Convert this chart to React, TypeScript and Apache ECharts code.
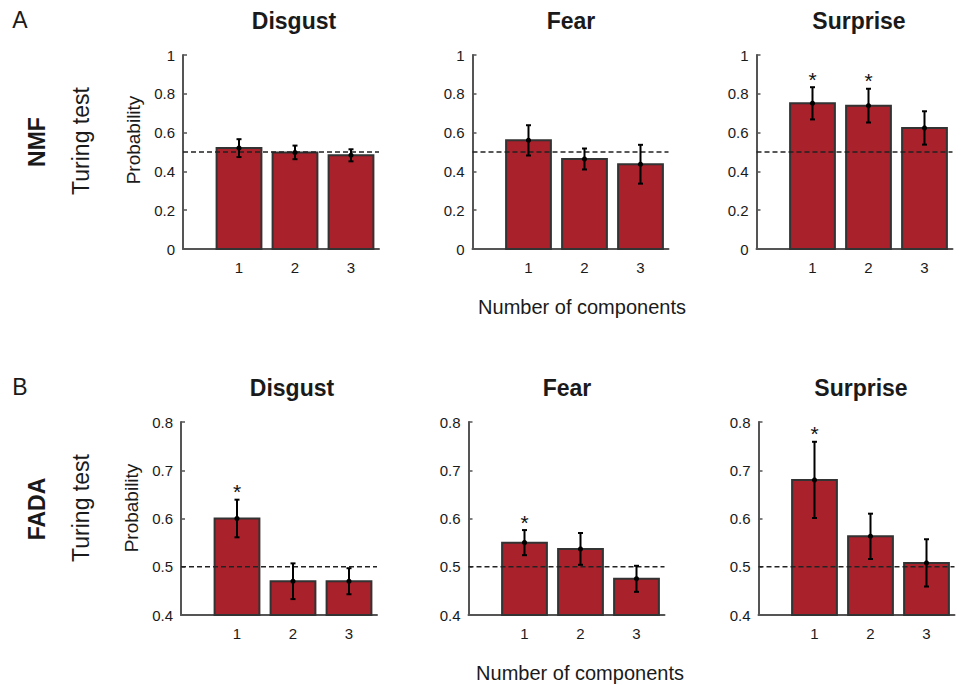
import React, { useEffect, useRef } from "react";
import * as echarts from "echarts";

// ---------- data ----------
const components = [1, 2, 3];
const emotions = ["Disgust", "Fear", "Surprise"];
const rowMethods = ["NMF", "FADA"];
const panelLetters = ["A", "B"];
const chanceLevel = 0.5;

// Row A: NMF
const nmfDisgustMean = [0.52, 0.498, 0.483];
const nmfDisgustErr = [0.046, 0.035, 0.031];
const nmfFearMean = [0.56, 0.464, 0.437];
const nmfFearErr = [0.078, 0.054, 0.1];
const nmfSurpriseMean = [0.751, 0.739, 0.624];
const nmfSurpriseErr = [0.083, 0.087, 0.086];
const nmfDisgustSig = [0, 0, 0];
const nmfFearSig = [0, 0, 0];
const nmfSurpriseSig = [1, 1, 0];

// Row B: FADA
const fadaDisgustMean = [0.6, 0.47, 0.47];
const fadaDisgustErr = [0.039, 0.037, 0.027];
const fadaFearMean = [0.55, 0.537, 0.475];
const fadaFearErr = [0.026, 0.033, 0.027];
const fadaSurpriseMean = [0.68, 0.563, 0.508];
const fadaSurpriseErr = [0.079, 0.047, 0.049];
const fadaDisgustSig = [1, 0, 0];
const fadaFearSig = [1, 0, 0];
const fadaSurpriseSig = [1, 0, 0];

// axis ranges / ticks
const nmfYMin = 0;
const nmfYMax = 1;
const nmfYStep = 0.2;
const fadaYMin = 0.4;
const fadaYMax = 0.8;
const fadaYStep = 0.1;
const xMin = 0;
const xMax = 3.5;

// ---------- styling ----------
const FONT = "'Liberation Sans', Arial, Helvetica, sans-serif";
const BAR_FILL = "#a8212b";
const BAR_STROKE = "#333333";
const AXIS_COLOR = "#555555";
const TEXT_COLOR = "#1a1a1a";
const BAR_HALF = 0.4;

const gridTops = [55, 422];
const gridHeights = [194, 193];
const gridLefts = [
  [183, 472.5, 756.5],
  [181, 468.5, 758.5],
];
const GRID_W = 196;

const fmt = (v: number) => String(parseFloat(v.toFixed(2)));

export default function App() {
  const ref = useRef<HTMLDivElement>(null);

  useEffect(() => {
    if (!ref.current) return;
    const chart = echarts.init(ref.current, undefined, { renderer: "svg" });

    const rows = [
      {
        means: [nmfDisgustMean, nmfFearMean, nmfSurpriseMean],
        errs: [nmfDisgustErr, nmfFearErr, nmfSurpriseErr],
        sigs: [nmfDisgustSig, nmfFearSig, nmfSurpriseSig],
        yMin: nmfYMin,
        yMax: nmfYMax,
        yStep: nmfYStep,
      },
      {
        means: [fadaDisgustMean, fadaFearMean, fadaSurpriseMean],
        errs: [fadaDisgustErr, fadaFearErr, fadaSurpriseErr],
        sigs: [fadaDisgustSig, fadaFearSig, fadaSurpriseSig],
        yMin: fadaYMin,
        yMax: fadaYMax,
        yStep: fadaYStep,
      },
    ];

    const grids: any[] = [];
    const xAxes: any[] = [];
    const yAxes: any[] = [];
    const series: any[] = [];

    rows.forEach((row, r) => {
      emotions.forEach((_, c) => {
        const idx = grids.length;
        grids.push({
          left: gridLefts[r][c],
          top: gridTops[r],
          width: GRID_W,
          height: gridHeights[r],
          containLabel: false,
        });
        xAxes.push({
          type: "value",
          gridIndex: idx,
          min: xMin,
          max: xMax,
          interval: 1,
          axisLine: { show: true, onZero: false, lineStyle: { color: AXIS_COLOR, width: 2 } },
          axisTick: { show: false },
          splitLine: { show: false },
          axisLabel: {
            margin: 11,
            fontSize: 15,
            fontFamily: FONT,
            color: TEXT_COLOR,
            showMinLabel: true,
            showMaxLabel: true,
            formatter: (v: number) => (components.includes(v) ? String(v) : ""),
          },
        });
        yAxes.push({
          type: "value",
          gridIndex: idx,
          min: row.yMin,
          max: row.yMax,
          interval: row.yStep,
          axisLine: { show: true, onZero: false, lineStyle: { color: AXIS_COLOR, width: 2 } },
          axisTick: { show: true, inside: true, length: 4, lineStyle: { color: AXIS_COLOR, width: 1.5 } },
          splitLine: { show: false },
          axisLabel: {
            margin: 8,
            fontSize: 15,
            fontFamily: FONT,
            color: TEXT_COLOR,
            formatter: (v: number) => fmt(v),
          },
        });

        const means = row.means[c];
        const errs = row.errs[c];
        const sigs = row.sigs[c];
        const base = row.yMin;

        // bars
        series.push({
          type: "custom",
          xAxisIndex: idx,
          yAxisIndex: idx,
          z: 2,
          data: components.map((x, i) => [x, means[i]]),
          renderItem: (_p: any, api: any) => {
            const x = api.value(0);
            const v = api.value(1);
            const p1 = api.coord([x - BAR_HALF, base]);
            const p2 = api.coord([x + BAR_HALF, v]);
            return {
              type: "rect",
              shape: { x: p1[0], y: p2[1], width: p2[0] - p1[0], height: p1[1] - p2[1] },
              style: { fill: BAR_FILL, stroke: BAR_STROKE, lineWidth: 2 },
            };
          },
        });

        // chance level
        series.push({
          type: "line",
          xAxisIndex: idx,
          yAxisIndex: idx,
          z: 3,
          symbol: "none",
          silent: true,
          data: [
            [xMin, chanceLevel],
            [xMax, chanceLevel],
          ],
          lineStyle: { color: "#222", width: 1.5, type: [5, 3] },
        });

        // error bars
        series.push({
          type: "custom",
          xAxisIndex: idx,
          yAxisIndex: idx,
          z: 4,
          data: components.map((x, i) => [x, means[i], errs[i]]),
          renderItem: (_p: any, api: any) => {
            const x = api.value(0);
            const m = api.value(1);
            const e = api.value(2);
            const t = api.coord([x, m + e]);
            const b = api.coord([x, m - e]);
            const mid = api.coord([x, m]);
            const cap = 2.5;
            const st = { stroke: "#000", lineWidth: 2 };
            return {
              type: "group",
              children: [
                { type: "line", shape: { x1: t[0], y1: t[1], x2: b[0], y2: b[1] }, style: st },
                { type: "line", shape: { x1: t[0] - cap, y1: t[1], x2: t[0] + cap, y2: t[1] }, style: st },
                { type: "line", shape: { x1: b[0] - cap, y1: b[1], x2: b[0] + cap, y2: b[1] }, style: st },
                { type: "circle", shape: { cx: mid[0], cy: mid[1], r: 2.6 }, style: { fill: "#000" } },
              ],
            };
          },
        });

        // significance stars
        const starData = components
          .map((x, i) => (sigs[i] ? [x, means[i] + errs[i]] : null))
          .filter((d) => d !== null);
        series.push({
          type: "custom",
          xAxisIndex: idx,
          yAxisIndex: idx,
          z: 5,
          data: starData,
          renderItem: (_p: any, api: any) => {
            const pt = api.coord([api.value(0), api.value(1)]);
            return {
              type: "text",
              x: pt[0],
              y: pt[1] - 8,
              style: {
                text: "*",
                fontSize: 21,
                fontFamily: FONT,
                fill: "#111",
                align: "center",
                verticalAlign: "middle",
              },
            };
          },
        });
      });
    });

    const titleX = [
      [294, 571, 859],
      [292, 567, 861],
    ];
    const titleY = [21, 388];
    const xNameY = [307, 673];
    const xNameX = [582, 580];
    const methodY = [142, 509];
    const turingY = [141, 508];
    const probY = [140, 508];
    const probX = [133.5, 131.5];
    const letterY = [20, 387];

    const graphics: any[] = [];
    rowMethods.forEach((method, r) => {
      graphics.push({
        type: "text",
        x: 20,
        y: letterY[r],
        style: { text: panelLetters[r], fontSize: 23, fontFamily: FONT, fill: TEXT_COLOR, align: "center", verticalAlign: "middle" },
      });
      graphics.push({
        type: "text",
        x: 37,
        y: methodY[r],
        rotation: Math.PI / 2,
        style: { text: method, fontSize: 23, fontWeight: "bold", fontFamily: FONT, fill: TEXT_COLOR, align: "center", verticalAlign: "middle" },
      });
      graphics.push({
        type: "text",
        x: 81,
        y: turingY[r],
        rotation: Math.PI / 2,
        style: { text: "Turing test", fontSize: 23, fontFamily: FONT, fill: TEXT_COLOR, align: "center", verticalAlign: "middle" },
      });
      graphics.push({
        type: "text",
        x: probX[r],
        y: probY[r],
        rotation: Math.PI / 2,
        style: { text: "Probability", fontSize: 19, fontFamily: FONT, fill: TEXT_COLOR, align: "center", verticalAlign: "middle" },
      });
      emotions.forEach((emo, c) => {
        graphics.push({
          type: "text",
          x: titleX[r][c],
          y: titleY[r],
          style: { text: emo, fontSize: 23, fontWeight: "bold", fontFamily: FONT, fill: TEXT_COLOR, align: "center", verticalAlign: "middle" },
        });
      });
      graphics.push({
        type: "text",
        x: xNameX[r],
        y: xNameY[r],
        style: { text: "Number of components", fontSize: 20, fontFamily: FONT, fill: TEXT_COLOR, align: "center", verticalAlign: "middle" },
      });
    });

    chart.setOption({
      animation: false,
      backgroundColor: "#ffffff",
      textStyle: { fontFamily: FONT },
      grid: grids,
      xAxis: xAxes,
      yAxis: yAxes,
      series,
      graphic: graphics,
    });

    return () => chart.dispose();
  }, []);

  return (
    <div
      ref={ref}
      style={{ position: "absolute", left: 0, top: 0, width: 977, height: 685, background: "#fff" }}
    />
  );
}
